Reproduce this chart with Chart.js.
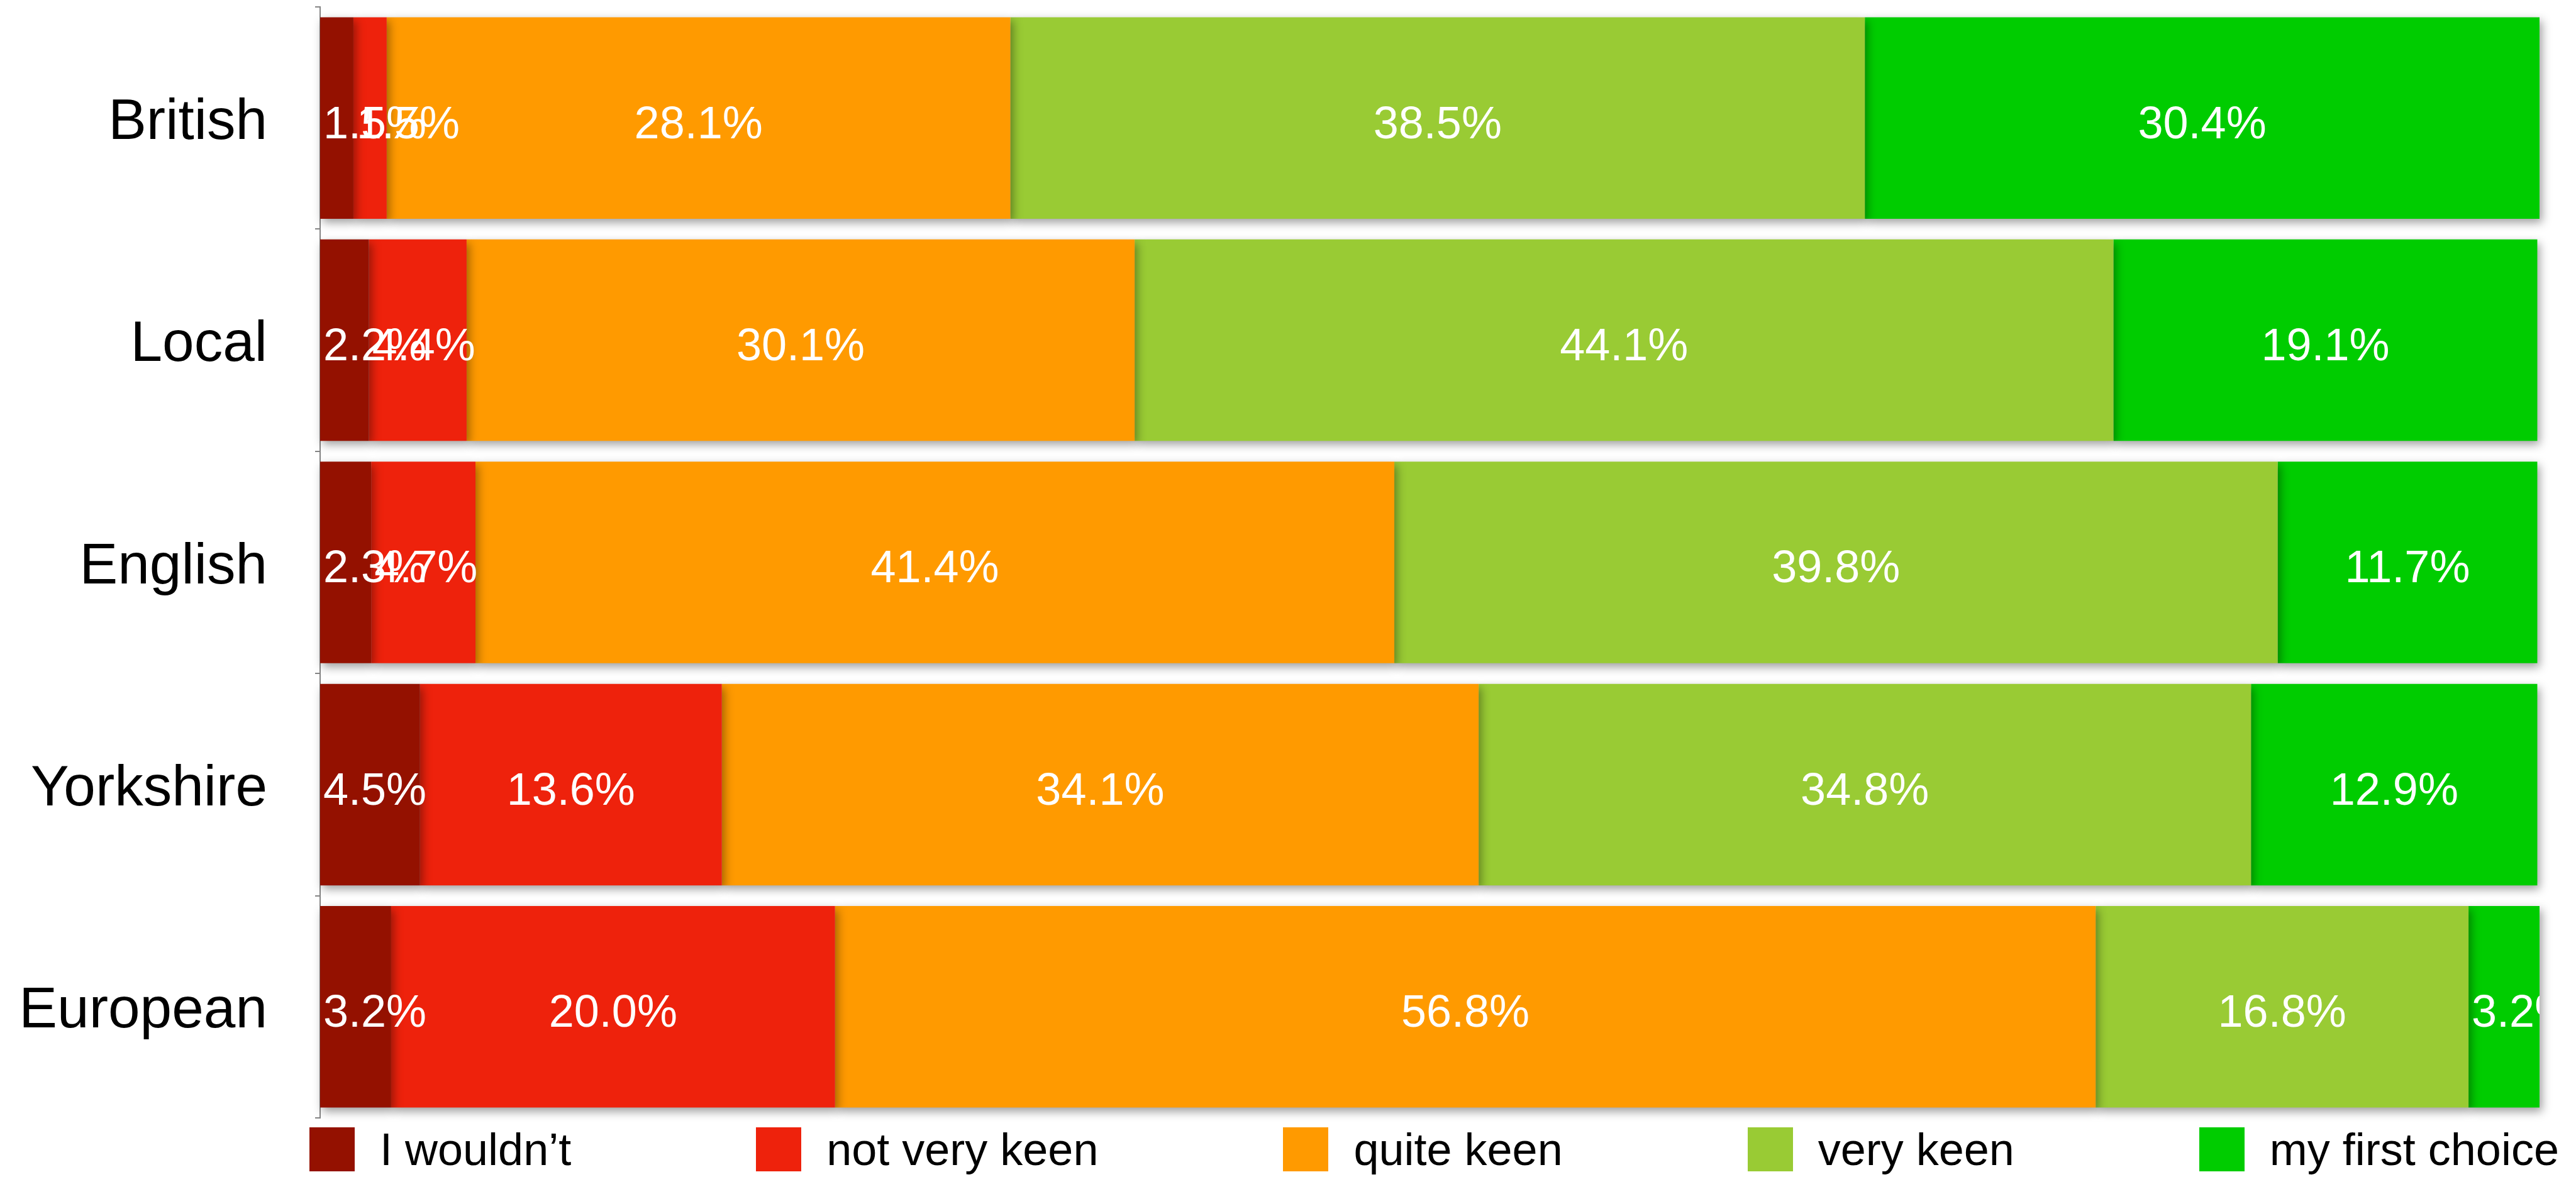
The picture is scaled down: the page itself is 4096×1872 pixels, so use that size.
<!DOCTYPE html>
<html>
<head>
<meta charset="utf-8">
<title>Keenness by identity</title>
<script src="https://cdn.jsdelivr.net/npm/chart.js@4/dist/chart.umd.min.js"></script>
<style>
  body { margin: 0; background: #fff; }
  #wrap { position: relative; width: 4096px; height: 1872px; }
  #legend {
    position: absolute; left: 492px; top: 1793px;
    display: flex; align-items: center; gap: 294px;
    font-family: "Liberation Sans", Arial, sans-serif; font-size: 72px; color: #000;
    white-space: nowrap;
  }
  .item { display: flex; align-items: center; gap: 40px; }
  .swatch { width: 72px; height: 70px; }
  .item span { line-height: 70px; }
</style>
</head>
<body>
<div id="wrap">
  <canvas id="myChart" width="4096" height="1872"></canvas>
  <div id="legend"></div>
</div>
<script>
// categories down the y axis
const categories = ['British', 'Local', 'English', 'Yorkshire', 'European'];

// answer groups, in stacking order
const seriesNames = ['I wouldn’t', 'not very keen', 'quite keen', 'very keen', 'my first choice'];

// percentages per category
const wouldnt     = [1.5, 2.2, 2.3, 4.5, 3.2];
const notVeryKeen = [1.5, 4.4, 4.7, 13.6, 20.0];
const quiteKeen   = [28.1, 30.1, 41.4, 34.1, 56.8];
const veryKeen    = [38.5, 44.1, 39.8, 34.8, 16.8];
const firstChoice = [30.4, 19.1, 11.7, 12.9, 3.2];

const colours = ['#941100', '#EE220C', '#FF9A00', '#99CB34', '#00CC00'];

const seriesValues = [wouldnt, notVeryKeen, quiteKeen, veryKeen, firstChoice];

//Soft drop shadow under each bar segment
const barShadow = {
  id: 'barShadow',
  beforeDatasetsDraw(chart) {
    const ctx = chart.ctx;
    ctx.save();
    ctx.shadowColor = 'rgba(0, 0, 0, 0.38)';
    ctx.shadowBlur = 14;
    ctx.shadowOffsetX = 4;
    ctx.shadowOffsetY = 6;
  },
  afterDatasetsDraw(chart) {
    chart.ctx.restore();
  }
};

//White percentage text on each segment, centred when it fits,
//otherwise pushed to the start of the segment
const segmentLabels = {
  id: 'segmentLabels',
  afterDatasetsDraw(chart) {
    const { ctx, chartArea } = chart;
    ctx.save();
    ctx.beginPath();
    ctx.rect(chartArea.left, chartArea.top, chartArea.right - chartArea.left, chartArea.bottom - chartArea.top);
    ctx.clip();
    ctx.font = '72px "Liberation Sans"';
    ctx.fillStyle = '#ffffff';
    ctx.textBaseline = 'middle';
    ctx.textAlign = 'left';
    chart.data.datasets.forEach(function (ds, i) {
      chart.getDatasetMeta(i).data.forEach(function (bar, j) {
        const text = ds.data[j].toFixed(1) + '%';
        const w = ctx.measureText(text).width;
        const left = Math.min(bar.base, bar.x);
        const right = Math.max(bar.base, bar.x);
        let x = (left + right) / 2 - w / 2;
        if (w + 10 > right - left) {
          x = left + 5;
        }
        ctx.fillText(text, x, bar.y + 12);
      });
    });
    ctx.restore();
  }
};

function drawChart() {
  let ctx = document.getElementById('myChart');
  new Chart(ctx, {
    type: 'bar',
    data: {
      labels: categories,
      datasets: seriesNames.map(function (name, i) {
        return {
          label: name,
          data: seriesValues[i],
          backgroundColor: colours[i],
          borderWidth: 0,
          barPercentage: 0.907,
          categoryPercentage: 1,
          clip: false
        };
      })
    },
    options: {
      indexAxis: 'y',
      responsive: false,
      animation: false,
      devicePixelRatio: 1,
      layout: {
        padding: { top: 11, right: 58, bottom: 94, left: 0 }
      },
      plugins: {
        legend: { display: false },
        tooltip: { enabled: false }
      },
      scales: {
        x: {
          stacked: true,
          min: 0,
          max: 100,
          display: false
        },
        y: {
          stacked: true,
          grid: {
            offset: true,
            drawOnChartArea: false,
            drawTicks: true,
            tickLength: 8,
            color: '#858585',
            lineWidth: 2
          },
          border: { display: true, color: '#858585', width: 2 },
          ticks: {
            color: '#000000',
            padding: 76,
            labelOffset: 8,
            font: { family: 'Liberation Sans', size: 91 }
          },
          afterFit(scale) {
            // fixed axis width; the labels sit between the bars so no extra room above/below
            scale.width = 509;
            scale.paddingTop = 0;
            scale.paddingBottom = 0;
          }
        }
      }
    },
    plugins: [barShadow, segmentLabels]
  });
}

//Legend row under the chart
function drawLegend() {
  const legend = document.getElementById('legend');
  seriesNames.forEach(function (name, i) {
    const item = document.createElement('div');
    item.className = 'item';
    const swatch = document.createElement('div');
    swatch.className = 'swatch';
    swatch.style.background = colours[i];
    const label = document.createElement('span');
    label.textContent = name;
    item.appendChild(swatch);
    item.appendChild(label);
    legend.appendChild(item);
  });
}

drawChart();
drawLegend();
</script>
</body>
</html>
